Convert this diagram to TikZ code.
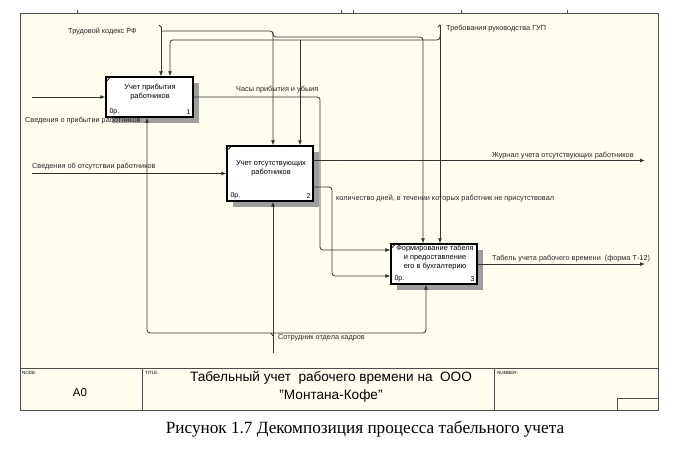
\documentclass[tikz,border=0pt]{standalone}
\usepackage{fontspec}
\setmainfont{Liberation Sans}
\newfontfamily\capfont{Liberation Serif}
\usetikzlibrary{arrows.meta,calc,shadows}
\definecolor{cream}{HTML}{FFFDF0}
\definecolor{ln}{HTML}{333333}
\begin{document}
\begin{tikzpicture}[x=1pt,y=-1pt,
  lbl/.style={font=\fontsize{7.3}{8}\selectfont, text=black!85, inner sep=0pt, anchor=west},
  btxt/.style={font=\fontsize{7.4}{8.6}\selectfont, align=center, inner sep=0pt},
  small/.style={font=\fontsize{7}{8}\selectfont, inner sep=0pt},
  arr/.style={draw=ln, line width=0.8pt, -{Latex[length=5pt,width=4pt]}},
  conn/.style={draw=ln, line width=0.8pt},
  rc/.style={rounded corners=3pt},
  func/.style={draw=black, line width=1.4pt, fill=white, inner sep=0pt,
    drop shadow={shadow xshift=6pt, shadow yshift=-6pt, fill=black!38, opacity=1}},
  frame/.style={draw=black!70, line width=0.7pt},
  tiny/.style={font=\fontsize{4.5}{5}\selectfont, anchor=north west, inner sep=0pt}
]
\useasboundingbox (0,0) rectangle (680,452);
\fill[white] (0,0) rectangle (680,452);
\fill[cream] (20,13) rectangle (658,410);
% frame
\draw[frame] (20,13) rectangle (658,410);
\foreach \tx in {77,341,353,461,567} \draw[frame] (\tx,13) -- (\tx,10);
\draw[frame] (20,368) -- (658,368);
\draw[frame] (142,368) -- (142,410);
\draw[frame] (494,368) -- (494,410);
\draw[frame] (617,410) |- (658,398);

% boxes
\node[func, minimum width=87pt, minimum height=40pt] (b1) at (149.5,97) {};
\node[func, minimum width=86pt, minimum height=55pt] (b2) at (270,173.5) {};
\node[func, minimum width=86pt, minimum height=40pt] (b3) at (434,264) {};
\foreach \b in {b1,b2,b3} \draw[black, line width=0.8pt] ($(\b.north west)+(0,6)$) -- ($(\b.north west)+(6,0)$);

\node[btxt] (b1t) at (150,92) {Учет прибытия\\работников};
\node[btxt] (b2t) at (271,168) {Учет отсутствующих\\работников};
\node[btxt] (b3t) at (435,257.5) {Формирование табеля\\и предоставление\\его в бухгалтерию};
\node[small, anchor=south west] (b1n) at ($(b1.south west)+(4,-3)$) {0р.};
\node[small, anchor=south east] (b1k) at ($(b1.south east)+(-3,-3)$) {1};
\node[small, anchor=south west] (b2n) at ($(b2.south west)+(4,-3)$) {0р.};
\node[small, anchor=south east] (b2k) at ($(b2.south east)+(-3,-3)$) {2};
\node[small, anchor=south west] (b3n) at ($(b3.south west)+(4,-3)$) {0р.};
\node[small, anchor=south east] (b3k) at ($(b3.south east)+(-3,-3)$) {3};

% free ends
\coordinate (tk) at (161,27);
\coordinate (tr) at (440,25);
\coordinate (mech) at (273,353);
\coordinate (in1) at (32,97);
\coordinate (in2) at (32,173.5);
\coordinate (o1) at (645,160.5);
\coordinate (o3) at (645,264);
\coordinate (x170) at (170,0);
\coordinate (x273) at (273,0);
\coordinate (x300) at (300,0);
\coordinate (x320) at (320,0);
\coordinate (x332) at (332,0);
\coordinate (x423) at (423,0);
\coordinate (x147) at (147,0);
\coordinate (x426) at (426,0);
\coordinate (b3i1) at ($(b3.west)+(0,-14)$);
\coordinate (b3i2) at ($(b3.west)+(0,12)$);
\coordinate (b2o2) at ($(b2.east)+(0,13.5)$);

% controls: Трудовой кодекс
\draw[conn] (tk) -- ++(-2,-2);
\draw[arr] (tk) -- (tk |- b1.north);
\draw[arr, rc] (161,31) -| (x273 |- b2.north);
\draw[arr, rc] (273,32) -- (273,37) -- (423,37) -- (x423 |- b3.north);
% controls: Требования
\draw[conn, rc] (tr) -- ++(-2,2);
\draw[arr] (tr) -- (tr |- b3.north);
\draw[arr, rc] (440,35) -- (440,40) -- (170,40) -- (x170 |- b1.north);
\draw[arr] (300,40) -- (x300 |- b2.north);
% mechanisms
\draw[arr] (mech) -- (mech |- b2.south);
\draw[arr, rc] (273,333) -- (147,333) -- (x147 |- b1.south);
\draw[arr, rc] (273,333) -- (426,333) -- (x426 |- b3.south);
\draw[conn] (273,336) -- ++(-2,-3);
% inputs
\draw[arr] (in1) -- (b1.west);
\draw[arr] (in2) -- (b2.west);
% internal arrows
\draw[arr, rc] (b1.east) -- (x320 |- b1.east) -- (x320 |- b3i1) -- (b3i1);
\draw[arr, rc] (b2o2) -- (x332 |- b2o2) -- (x332 |- b3i2) -- (b3i2);
% outputs
\draw[arr] (b2.east |- o1) -- (o1);
\draw[arr] (b3.east) -- (o3);

% labels
\node[lbl] (l1) at (68,32) {Трудовой кодекс РФ};
\node[lbl] (l2) at (446,29) {Требования руководства ГУП};
\node[lbl] (l3) at (236,89.5) {Часы прибытия и убыия};
\node[lbl] (l4) at (25,121) {Сведения о прибытии работников};
\node[lbl] (l5) at (32,167) {Сведения об отсутствии работников};
\node[lbl] (l6) at (492,156) {Журнал учета отсутствующих работников};
\node[lbl] (l7) at (336,199) {количество дней, в течении которых работник не присутствовал};
\node[lbl] (l8) at (492,259) {Табель учета рабочего времени\ \ (форма Т-12)};
\node[lbl] (l9) at (278,338) {Сотрудник отдела кадров};

% title block
\node[tiny] (tn) at (22,371) {NODE:};
\node[font=\fontsize{11.5}{12}\selectfont, inner sep=0pt] (ta) at (80,393) {A0};
\node[tiny] (tt) at (145,371) {TITLE:};
\node[font=\fontsize{13.6}{17.5}\selectfont, align=center, inner sep=0pt] (ttl) at (331,387) {Табельный учет\ \ рабочего времени на\ \ ООО\\"Монтана-Кофе"};
\node[tiny] (tnum) at (497,371) {NUMBER:};
% caption
\node[font=\capfont\fontsize{17.2}{18}\selectfont, inner sep=0pt] (cap) at (365,429) {Рисунок 1.7 Декомпозиция процесса табельного учета};
\end{tikzpicture}
\end{document}
